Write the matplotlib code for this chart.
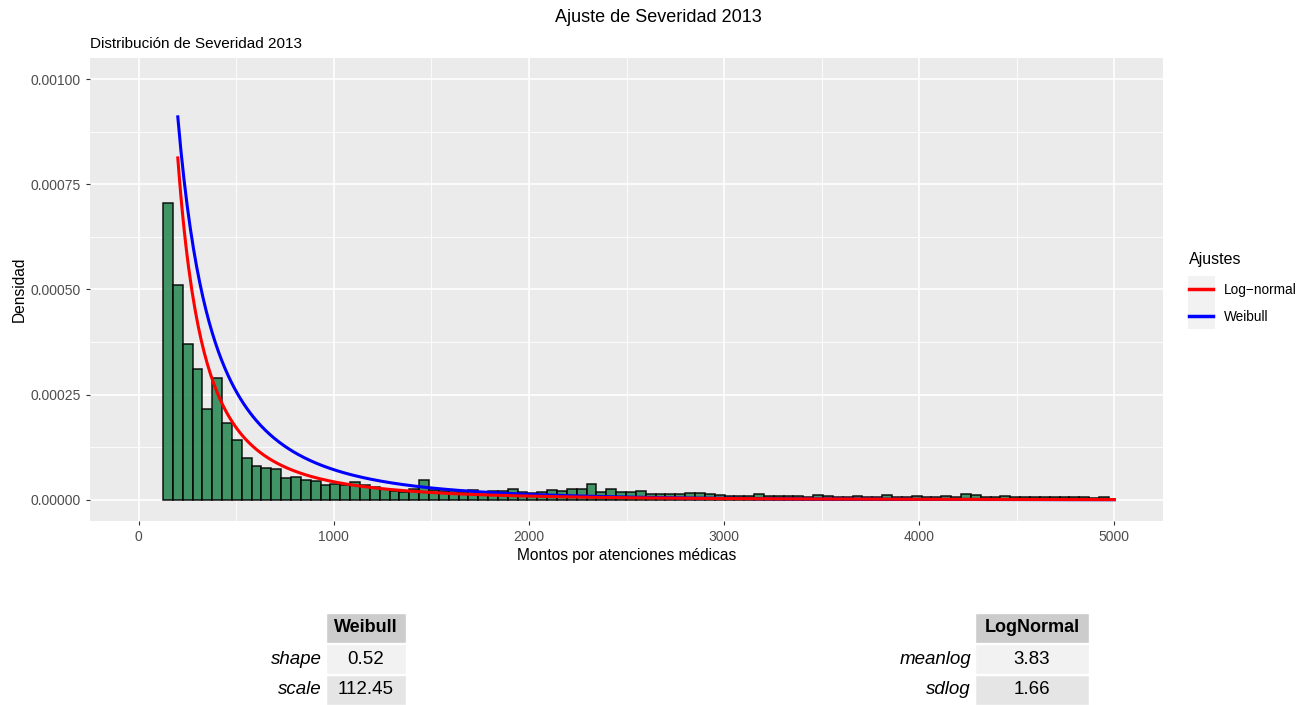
import numpy as np
import matplotlib
matplotlib.use("Agg")
import matplotlib.pyplot as plt
from matplotlib.patches import Rectangle

plt.rcParams['font.family'] = ['Liberation Sans', 'DejaVu Sans']

# histograma de montos (densidad por clase)
bin_start = 124
bin_width = 50.5
densidad = [
    0.000706, 0.000511, 0.000371, 0.000312, 0.000217, 0.000290, 0.000184, 0.000142,
    0.000100, 0.000080, 0.000075, 0.000073, 0.000053, 0.000054, 0.000048, 0.000046,
    0.000036, 0.000037, 0.000036, 0.000042, 0.000036, 0.000031, 0.000026, 0.000022,
    0.000020, 0.000027, 0.000047, 0.000024, 0.000021, 0.000020, 0.000020, 0.000024,
    0.000020, 0.000021, 0.000021, 0.000026, 0.000020, 0.000017, 0.000019, 0.000024,
    0.000021, 0.000026, 0.000025, 0.000037, 0.000018, 0.000026, 0.000018, 0.000018,
    0.000021, 0.000015, 0.000015, 0.000014, 0.000015, 0.000017, 0.000016, 0.000013,
    0.000011, 0.000010, 0.000010, 0.000009, 0.000013, 0.000010, 0.000009, 0.000009,
    0.000009, 0.000008, 0.000011, 0.000009, 0.000007, 0.000007, 0.000009, 0.000007,
    0.000007, 0.000012, 0.000007, 0.000007, 0.000009, 0.000007, 0.000007, 0.000010,
    0.000007, 0.000015, 0.000011, 0.000007, 0.000006, 0.000009, 0.000006, 0.000006,
    0.000006, 0.000007, 0.000007, 0.000006, 0.000006, 0.000006, 0.000005, 0.000006,
]

# parametros ajustados
weibull_shape = 0.52
weibull_scale = 112.45
lognorm_meanlog = 3.83
lognorm_sdlog = 1.66
x_min, x_max = 200, 5000

x_ticks = [0, 1000, 2000, 3000, 4000, 5000]
y_ticks = [0.0, 0.00025, 0.0005, 0.00075, 0.001]


def dweibull(x, k, lam):
    return (k / lam) * (x / lam) ** (k - 1) * np.exp(-(x / lam) ** k)


def dlnorm(x, mu, sigma):
    return np.exp(-(np.log(x) - mu) ** 2 / (2 * sigma ** 2)) / (x * sigma * np.sqrt(2 * np.pi))


W, H = 1315, 705
fig = plt.figure(figsize=(W / 100, H / 100), dpi=100)


def px_axes(left, top, right, bottom):
    return fig.add_axes([left / W, 1 - bottom / H, (right - left) / W, (bottom - top) / H])


ax = px_axes(90, 58, 1163, 521)
ax.set_facecolor('#EBEBEB')
for s in ax.spines.values():
    s.set_visible(False)

ax.set_xlim(-250, 5250)
ax.set_ylim(-0.00005, 0.00105)

# grilla estilo ggplot
for v in np.arange(500, 5001, 1000):
    ax.axvline(v, color='white', lw=0.6, zorder=0)
for v in np.arange(0.000125, 0.00105, 0.00025):
    ax.axhline(v, color='white', lw=0.6, zorder=0)
for v in x_ticks:
    ax.axvline(v, color='white', lw=1.2, zorder=0)
for v in y_ticks:
    ax.axhline(v, color='white', lw=1.2, zorder=0)

edges = bin_start + bin_width * np.arange(len(densidad))
ax.bar(edges, densidad, width=bin_width, align='edge', color='#2E8B57', alpha=0.9,
       edgecolor='black', linewidth=1.1, zorder=2)

xs = np.linspace(x_min, x_max, 600)
l_wei, = ax.plot(xs, dweibull(xs, weibull_shape, weibull_scale), color='blue', lw=2.2, zorder=3)
l_log, = ax.plot(xs, dlnorm(xs, lognorm_meanlog, lognorm_sdlog), color='red', lw=2.2, zorder=3)

ax.set_xticks(x_ticks)
ax.set_xticklabels([str(v) for v in x_ticks])
ax.set_yticks(y_ticks)
ax.set_yticklabels(['%.5f' % v for v in y_ticks])
ax.tick_params(colors='#333333', labelcolor='#4D4D4D', labelsize=10, length=3, width=0.8)
ax.set_xlabel('Montos por atenciones médicas', fontsize=11.2, labelpad=3)
ax.set_ylabel('Densidad', fontsize=11.2, labelpad=3)
ax.set_title('Distribución de Severidad 2013', loc='left', fontsize=11, pad=7)

fig.text(658 / W, 1 - 17 / H, 'Ajuste de Severidad 2013', ha='center', va='center', fontsize=13)

# leyenda
leg = ax.legend([l_log, l_wei], ['Log\u2212normal', 'Weibull'],
                loc='upper left', bbox_to_anchor=(1178 / W, 1 - 241 / H), bbox_transform=fig.transFigure,
                frameon=False, title='Ajustes', fontsize=9.8, title_fontsize=11.5,
                handlelength=1.8, handletextpad=0.8, labelspacing=0.95, borderpad=0.3)
leg._legend_box.align = 'left'
leg._legend_box.sep = 11.5
for line in leg.get_lines():
    line.set_linewidth(2.5)
fig.patches.append(Rectangle((1188 / W, 1 - 329 / H), 27 / W, 53 / H, transform=fig.transFigure,
                             facecolor='#F2F2F2', edgecolor='none', zorder=-1, figure=fig))


# tablas de parametros
def cell(x0, y0, x1, y1, color):
    fig.patches.append(Rectangle((x0 / W, 1 - y1 / H), (x1 - x0) / W, (y1 - y0) / H,
                                 transform=fig.transFigure, facecolor=color, edgecolor='white',
                                 linewidth=1, figure=fig))


def tabla(x0, x1, titulo, nombres, valores):
    rows = [(613, 643), (644, 674), (675, 705)]
    cell(x0, rows[0][0], x1, rows[0][1], '#CCCCCC')
    fig.text((x0 + x1) / 2 / W, 1 - (rows[0][0] + rows[0][1]) / 2 / H, titulo,
             ha='center', va='center', fontsize=13, fontweight='bold')
    bgs = ['#F2F2F2', '#E5E5E5']
    for i, (nom, val) in enumerate(zip(nombres, valores)):
        y0, y1 = rows[i + 1]
        cell(x0, y0, x1, y1, bgs[i])
        yc = 1 - (y0 + y1) / 2 / H
        fig.text((x0 + x1) / 2 / W, yc, val, ha='center', va='center', fontsize=13.5)
        fig.text((x0 - 4) / W, yc, nom, ha='right', va='center', fontsize=13.5, style='italic')


tabla(326, 406, 'Weibull', ['shape', 'scale'], ['%.2f' % weibull_shape, '%.2f' % weibull_scale])
tabla(975, 1089, 'LogNormal', ['meanlog', 'sdlog'], ['%.2f' % lognorm_meanlog, '%.2f' % lognorm_sdlog])

fig.savefig('out.png', dpi=100)
